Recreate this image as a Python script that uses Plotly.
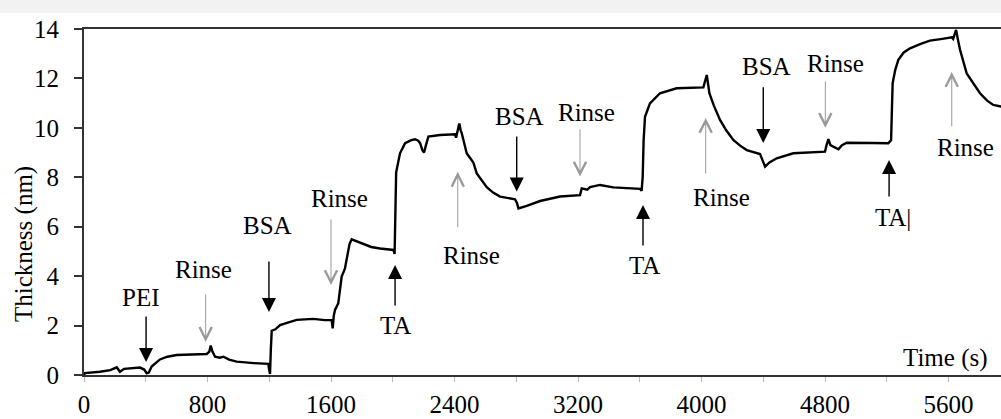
import plotly.graph_objects as go

# ---- data -------------------------------------------------------------
time_s = [0, 6, 104, 170, 212, 233, 260, 298, 363, 390, 406, 420, 438, 492, 540, 600, 700, 795,
          812, 821, 832, 849, 880, 903, 940, 989, 1100, 1194, 1200, 1205, 1210, 1216, 1240, 1270,
          1320, 1378, 1485, 1560, 1604, 1611, 1618, 1626, 1647, 1658, 1669, 1690, 1702, 1720, 1734,
          1770, 1810, 1860, 1918, 2004, 2012, 2016, 2022, 2047, 2080, 2120, 2144, 2165, 2177, 2192,
          2203, 2215, 2231, 2306, 2403, 2410, 2420, 2431, 2440, 2447, 2479, 2522, 2544, 2609, 2650,
          2695, 2792, 2805, 2814, 2868, 2954, 3084, 3213, 3218, 3224, 3260, 3278, 3343, 3429, 3602,
          3612, 3619, 3625, 3634, 3666, 3731, 3839, 4012, 4022, 4034, 4042, 4051, 4080, 4120, 4160,
          4206, 4250, 4293, 4379, 4395, 4412, 4440, 4487, 4595, 4700, 4800, 4810, 4822, 4835, 4865,
          4887, 4910, 4941, 5100, 5210, 5228, 5232, 5238, 5255, 5275, 5310, 5351, 5420, 5480, 5560,
          5621, 5630, 5640, 5649, 5660, 5675, 5718, 5760, 5804, 5850, 5890, 5940, 5980]
thickness_nm = [0.0, 0.08, 0.13, 0.2, 0.31, 0.13, 0.25, 0.27, 0.30, 0.22, 0.07, 0.1, 0.34, 0.63, 0.74,
                0.81, 0.84, 0.85, 0.95, 1.19, 0.95, 0.74, 0.70, 0.74, 0.62, 0.54, 0.48, 0.45, 0.2, 0.04,
                1.0, 1.79, 1.85, 2.02, 2.12, 2.23, 2.27, 2.22, 2.23, 1.89, 2.4, 2.63, 2.9, 3.5, 3.98, 4.3,
                4.65, 5.3, 5.49, 5.4, 5.30, 5.18, 5.12, 5.06, 4.9, 6.5, 8.2, 8.97, 9.38, 9.5, 9.54, 9.48,
                9.38, 9.1, 9.0, 9.3, 9.65, 9.71, 9.74, 9.6, 9.9, 10.18, 9.9, 9.78, 8.97, 8.6, 8.16, 7.60,
                7.38, 7.22, 7.11, 6.95, 6.74, 6.84, 7.04, 7.22, 7.28, 7.5, 7.55, 7.5, 7.6, 7.69, 7.59,
                7.53, 7.45, 8.0, 9.5, 10.45, 10.99, 11.40, 11.60, 11.64, 11.9, 12.14, 11.8, 11.40, 10.9,
                10.32, 9.9, 9.51, 9.28, 9.10, 8.94, 8.7, 8.43, 8.6, 8.77, 8.97, 9.01, 9.04, 9.3, 9.54,
                9.3, 9.2, 9.13, 9.3, 9.40, 9.39, 9.38, 9.5, 10.5, 11.8, 12.35, 12.75, 13.05, 13.22, 13.4,
                13.53, 13.6, 13.66, 13.6, 13.8, 13.96, 13.6, 13.15, 12.20, 11.8, 11.40, 11.1, 10.93,
                10.86, 10.8]

x_ticks = [0, 800, 1600, 2400, 3200, 4000, 4800, 5600]
y_ticks = [0, 2, 4, 6, 8, 10, 12, 14]

# event labels: name, label position, arrow tail, arrow tip, kind
event_names = ["PEI", "Rinse", "BSA", "Rinse", "TA", "Rinse", "BSA", "Rinse", "TA", "Rinse",
               "BSA", "Rinse", "TA|", "Rinse"]
event_kind = ["add", "rinse", "add", "rinse", "add", "rinse", "add", "rinse", "add", "rinse",
              "add", "rinse", "add", "rinse"]
label_x = [369, 773, 1189, 1652, 2015, 2513, 2818, 3258, 3631, 4131, 4424, 4865, 5111, 5707]
label_y = [3.12, 4.25, 6.03, 7.16, 2.02, 4.82, 10.44, 10.64, 4.45, 7.18, 12.48, 12.61, 6.39, 9.21]
arrow_x = [402, 788, 1198, 1600, 2015, 2421, 2803, 3213, 3621, 4027, 4400, 4802, 5215, 5621]
tail_y = [2.43, 3.32, 4.65, 6.35, 2.75, 5.91, 9.71, 10.0, 5.18, 8.09, 11.70, 11.94, 7.16, 10.0]
tip_y = [0.53, 1.34, 2.55, 3.64, 4.45, 8.22, 7.42, 8.03, 6.88, 10.4, 9.39, 10.0, 8.70, 12.26]

FONT = "Liberation Serif, Times New Roman, serif"
FS = 25

fig = go.Figure()
fig.add_trace(go.Scatter(x=time_s, y=thickness_nm, mode="lines",
                         line=dict(color="black", width=2.4), showlegend=False))

for i, name in enumerate(event_names):
    black = event_kind[i] == "add"
    fig.add_annotation(x=arrow_x[i], y=tip_y[i], ax=arrow_x[i], ay=tail_y[i],
                       xref="x", yref="y", axref="x", ayref="y", text="",
                       showarrow=True, arrowhead=2 if black else 5,
                       arrowsize=2.0 if black else 2.4,
                       arrowwidth=1.4 if black else 1.0,
                       arrowcolor="black" if black else "#9a9a9a")
    fig.add_annotation(x=label_x[i], y=label_y[i], xref="x", yref="y", text=name,
                       showarrow=False, xanchor="left" if name == "TA|" else "center",
                       yanchor="middle", font=dict(family=FONT, size=FS, color="black"))

fig.add_annotation(x=5578, y=0.69, xref="x", yref="y", text="Time (s)", showarrow=False,
                   xanchor="center", yanchor="middle",
                   font=dict(family=FONT, size=FS, color="black"))
fig.add_annotation(x=-0.0654, y=5.3, xref="paper", yref="y", text="Thickness (nm)",
                   textangle=-90, showarrow=False, xanchor="center", yanchor="middle",
                   font=dict(family=FONT, size=FS, color="black"))

# light grey band at the very top of the image
fig.add_shape(type="rect", xref="paper", yref="paper", x0=-0.1, x1=1.0, y0=1.046, y1=1.1,
              fillcolor="#f2f2f2", line=dict(width=0), layer="below")

fig.update_layout(
    width=1001, height=419,
    margin=dict(l=84, r=0, t=29, b=44, autoexpand=False),
    paper_bgcolor="white", plot_bgcolor="white",
    font=dict(family=FONT, size=FS, color="black"),
    showlegend=False,
)
fig.update_xaxes(range=[0, 5940], tickvals=x_ticks, ticktext=[str(v) for v in x_ticks],
                 showline=True, linecolor="#333", linewidth=2, mirror=True,
                 ticks="outside", ticklen=5, tickcolor="#bbbbbb", tickwidth=1,
                 minor=dict(dtick=400, ticks="outside", ticklen=5, tickcolor="#bbbbbb"),
                 showgrid=False, zeroline=False, ticklabelstandoff=1, automargin=False,
                 tickfont=dict(family=FONT, size=FS, color="black"))
fig.update_yaxes(range=[0, 14], tickvals=y_ticks, ticktext=[str(v) for v in y_ticks],
                 showline=True, linecolor="#333", linewidth=2, mirror=False,
                 ticks="outside", ticklen=8, tickcolor="#333", tickwidth=1.5,
                 showgrid=False, zeroline=False, ticklabelstandoff=10, automargin=False,
                 tickfont=dict(family=FONT, size=FS, color="black"))

fig.write_html("out.html", config={"displayModeBar": False},
               post_script="document.body.style.margin='0px';document.body.style.overflow='hidden';")
